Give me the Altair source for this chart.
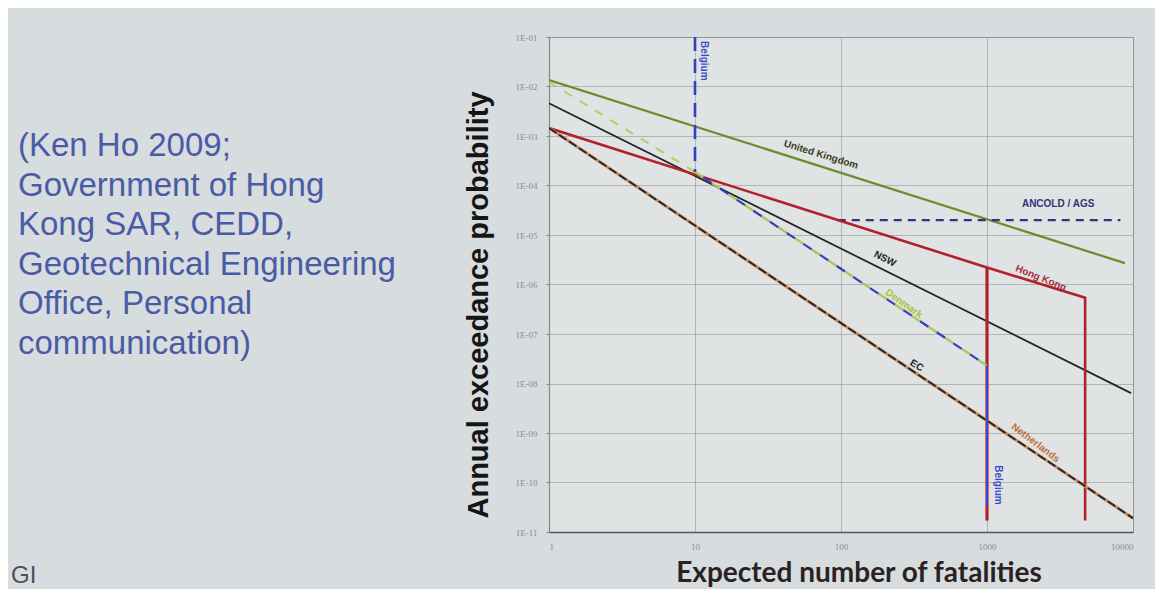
import altair as alt
import pandas as pd

# ---------------- data ----------------
uk_n = [1, 8800]
uk_f = [1.35e-2, 2.7e-6]

ancold_n = [95, 8200]
ancold_f = [2.0e-5, 2.0e-5]

hk_n = [1, 1000, 4700, 4700]
hk_f = [1.45e-3, 2.2e-6, 5.4e-7, 1.7e-11]
hk_cut_n = [1000, 1000]
hk_cut_f = [2.2e-6, 1.7e-11]

nsw_n = [1, 9700]
nsw_f = [4.6e-3, 6.4e-9]

denmark_a_n = [1, 10]
denmark_a_f = [1.23e-2, 1.87e-4]
denmark_b_n = [10, 1000]
denmark_b_f = [1.87e-4, 2.3e-8]

belgium_top_n = [10, 10]
belgium_top_f = [1.0e-1, 1.87e-4]
belgium_mid_n = [10, 1000]
belgium_mid_f = [1.87e-4, 2.3e-8]
belgium_bot_n = [1000, 1000]
belgium_bot_f = [2.3e-8, 3.2e-11]

nl_n = [1, 10000]
nl_f = [1.45e-3, 1.9e-11]

ec_n = [1, 10000]
ec_f = [1.45e-3, 1.9e-11]

label_text = ["United Kingdom", "ANCOLD / AGS", "NSW", "Hong Kong", "Denmark",
              "EC", "Netherlands", "Belgium", "Belgium"]
label_n = [73, 3070, 200, 2340, 270, 330, 2150, 10, 1000]
label_f = [4.2e-4, 4.2e-5, 3.3e-6, 1.35e-6, 4.1e-7, 2.3e-8, 6.3e-10, 3.3e-2, 8.9e-11]
label_angle = [17, 0, 27, 22, 35, 31, 37, 90, 90]
label_color = ["#3a3a20", "#3a2f78", "#1e1e1e", "#a8303a", "#a6c23a",
               "#1e1e1e", "#c0703a", "#3c4cc8", "#3c4cc8"]
label_dy = [0, 0, 0, 0, 0, 0, 0, -9, -11]

x_ticks = [1, 10, 100, 1000, 10000]
y_ticks = [1e-1, 1e-2, 1e-3, 1e-4, 1e-5, 1e-6, 1e-7, 1e-8, 1e-9, 1e-10, 1e-11]

note_lines = ["(Ken Ho 2009;", "Government of Hong", "Kong SAR, CEDD,",
              "Geotechnical Engineering", "Office, Personal", "communication)"]
x_title = "Expected number of fatalities"
y_title = "Annual exceedance probability"
corner_text = "GI"

# ---------------- build chart ----------------
def series(ns, fs):
    return pd.DataFrame({"N": ns, "F": fs, "o": list(range(len(ns)))})

W, H = 584, 495
xs = alt.Scale(type="log", domain=[1, 10000], nice=False)
ys = alt.Scale(type="log", domain=[1e-11, 1e-1], nice=False)

x_axis = alt.Axis(values=x_ticks, format="d", labelFontSize=9, labelColor="#8d8d8d",
                  labelPadding=10, grid=True, gridColor="#8c8f90", gridOpacity=0.7,
                  gridWidth=0.8, domainColor="#555", domainWidth=1.6, tickSize=0,
                  labelFont="Liberation Serif", title=None)
y_axis = alt.Axis(values=y_ticks, labelFontSize=9, labelColor="#8d8d8d",
                  labelExpr="'1E-' + format(round(-log(datum.value)/LN10), '02d')",
                  grid=True, gridColor="#8c8f90", gridOpacity=0.7, gridWidth=0.8,
                  domainColor="#888", domainWidth=1.2, tickSize=3, tickColor="#888",
                  labelPadding=9, labelFont="Liberation Serif", title=None)

X = alt.X("N:Q", scale=xs, axis=x_axis)
Y = alt.Y("F:Q", scale=ys, axis=y_axis)


def line(df, color, width=2.0, dash=None, offset=None):
    kw = {}
    if dash:
        kw["strokeDash"] = dash
    if offset is not None:
        kw["strokeDashOffset"] = offset
    return alt.Chart(df).mark_line(color=color, strokeWidth=width, clip=True, **kw).encode(
        x=X, y=Y, order="o:Q")


layers = [
    line(series(uk_n, uk_f), "#6f8a2c", 2.2),
    line(series(ancold_n, ancold_f), "#3a2f80", 2.2, [8, 6]),
    line(series(nsw_n, nsw_f), "#262626", 1.8),
    line(series(hk_n, hk_f), "#b3202c", 2.6),
    line(series(hk_cut_n, hk_cut_f), "#b3202c", 3.2),
    line(series(nl_n, nl_f), "#c98a5a", 3.0),
    line(series(ec_n, ec_f), "#222222", 1.8, [9, 3]),
    line(series(denmark_a_n, denmark_a_f), "#b2cf62", 2.0, [9, 9]),
    line(series(denmark_b_n, denmark_b_f), "#a9c95a", 2.4, [10, 10]),
    line(series(belgium_top_n, belgium_top_f), "#3040c0", 2.6, [14, 8]),
    line(series(belgium_mid_n, belgium_mid_f), "#3040c0", 2.2, [10, 10], 10),
    line(series(belgium_bot_n, belgium_bot_f), "#3848d0", 2.0),
]

lab_df = pd.DataFrame({"t": label_text, "N": label_n, "F": label_f, "a": label_angle,
                       "c": label_color, "dy": label_dy})
for i in range(len(lab_df)):
    row = lab_df.iloc[[i]]
    layers.append(
        alt.Chart(row).mark_text(fontSize=10, fontWeight="bold", font="Liberation Sans",
                                 angle=float(row["a"].iloc[0]), color=row["c"].iloc[0],
                                 dy=float(row["dy"].iloc[0]), align="center",
                                 baseline="middle").encode(x=X, y=Y, text="t:N")
    )

# left note
note_df = pd.DataFrame({"t": ["\n".join(note_lines)]})
layers.append(
    alt.Chart(note_df).mark_text(fontSize=33, font="Liberation Sans", color="#4a5ba6",
                                 align="left", baseline="top", lineBreak="\n",
                                 lineHeight=39.5).encode(
        x=alt.value(-531), y=alt.value(93), text="t:N")
)

# axis titles
yt_df = pd.DataFrame({"t": [y_title]})
layers.append(
    alt.Chart(yt_df).mark_text(fontSize=29, fontWeight="bold", font="Liberation Sans",
                               color="#151515", angle=270, align="center",
                               baseline="middle").encode(
        x=alt.value(-70), y=alt.value(268), text="t:N")
)
xt_df = pd.DataFrame({"t": [x_title]})
layers.append(
    alt.Chart(xt_df).mark_text(fontSize=28, fontWeight="bold", font="Lato",
                               color="#2a2222", align="center",
                               baseline="alphabetic").encode(
        x=alt.value(310), y=alt.value(545), text="t:N")
)
gi_df = pd.DataFrame({"t": [corner_text]})
layers.append(
    alt.Chart(gi_df).mark_text(fontSize=24, font="Liberation Sans", color="#4a5060",
                               align="left", baseline="alphabetic").encode(
        x=alt.value(-538), y=alt.value(546), text="t:N")
)

chart = alt.layer(*layers).properties(
    width=W, height=H,
    autosize=alt.AutoSizeParams(type="none"),
    padding={"left": 541, "top": 29, "right": 22, "bottom": 57},
    background="#d7dcde",
).configure_view(fill="#dfe3e4", stroke="#9a9d9e", strokeWidth=1)

chart.save("out.html", embed_options={"renderer": "svg", "actions": False})
